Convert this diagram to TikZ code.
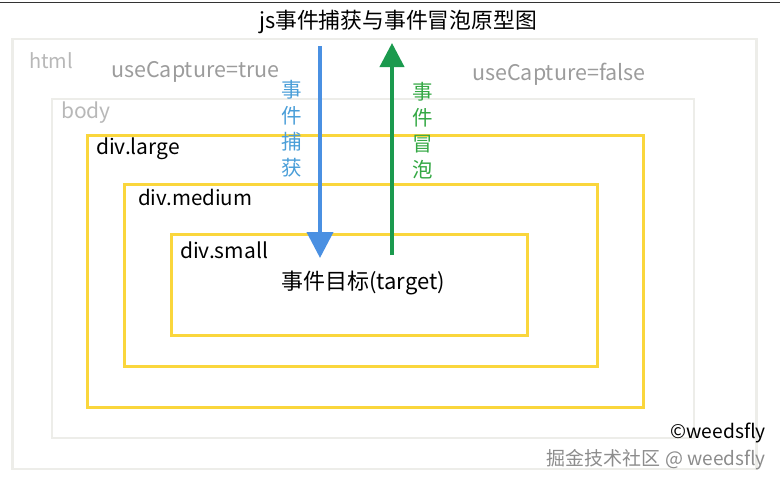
\documentclass[tikz,border=0pt]{standalone}
\usepackage{fontspec}
\setmainfont{Noto Sans CJK SC}
\usetikzlibrary{arrows.meta}

\definecolor{framegray}{HTML}{EDEDE9}
\definecolor{divyellow}{HTML}{FAD63C}
\definecolor{taggray}{HTML}{B8B8B8}
\definecolor{flowblue}{HTML}{4A90E2}
\definecolor{flowbluetext}{HTML}{4A9ED8}
\definecolor{flowgreen}{HTML}{1B9A4E}
\definecolor{flowgreentext}{HTML}{34A844}

\tikzset{
  frame/.style={draw=framegray, line width=2.7pt},
  divframe/.style={draw=divyellow, line width=3pt},
  tag/.style={anchor=west, inner sep=0pt, font=\fontsize{21}{25}\selectfont},
  vtext/.style={align=center, inner sep=0pt, font=\fontsize{20.5}{26}\selectfont},
}

\begin{document}
\begin{tikzpicture}[x=1pt, y=-1pt]
  \useasboundingbox (0,0) rectangle (780,479);
  \draw[black!80, line width=1pt] (0,2.5) -- (780,2.5);

  \node[inner sep=0pt, font=\fontsize{21.8}{26}\selectfont] (title) at (398,22) {js事件捕获与事件冒泡原型图};

  % nested boxes
  \draw[frame] (12.5,39) rectangle (756.5,469);
  \draw[frame] (52,99) rectangle (694,438);
  \draw[divframe] (87,135) rectangle (643.5,407);
  \draw[divframe] (124.5,184.5) rectangle (597,366.5);
  \draw[divframe] (171,234.5) rectangle (527,335.5);

  \node[tag, text=taggray, font=\fontsize{20}{24}\selectfont] (html) at (29,60.5) {html};
  \node[tag, text=taggray] (body) at (61,112.5) {body};
  \node[tag] (large) at (96,149) {div.large};
  \node[tag, font=\fontsize{20.5}{24}\selectfont] (medium) at (138,197.5) {div.medium};
  \node[tag] (small) at (180,250.5) {div.small};
  \node[tag, text=taggray!85!black, font=\fontsize{21.5}{25}\selectfont] (captrue) at (111,71.5) {useCapture=true};
  \node[tag, text=taggray!85!black, font=\fontsize{21.5}{25}\selectfont] (capfalse) at (472,74.5) {useCapture=false};
  \node[inner sep=0pt, font=\fontsize{22}{26}\selectfont] (target) at (363,283.5) {事件目标(target)};

  % capture and bubble
  \coordinate (capS) at (320,46);
  \coordinate (capE) at (320,258);
  \coordinate (bubS) at (392,255);
  \coordinate (bubE) at (392,43);
  \draw[flowblue, line width=4pt, -{Triangle[width=26pt,length=26pt]}] (capS) -- (capE);
  \draw[flowgreen, line width=4pt, -{Triangle[width=24pt,length=24pt]}] (bubS) -- (bubE);
  \node[vtext, text=flowbluetext] (captxt) at (292,129) {事\\件\\捕\\获};
  \node[vtext, text=flowgreentext] (bubtxt) at (423,131) {事\\件\\冒\\泡};

  \node[anchor=east, inner sep=0pt, font=\fontsize{19.2}{22}\selectfont] (copy) at (766,433) {©weedsfly};
  \node[anchor=east, inner sep=0pt, text=black!45, font=\fontsize{19}{22}\selectfont] (mark) at (766,459.5) {掘金技术社区 @ weedsfly};
\end{tikzpicture}
\end{document}
